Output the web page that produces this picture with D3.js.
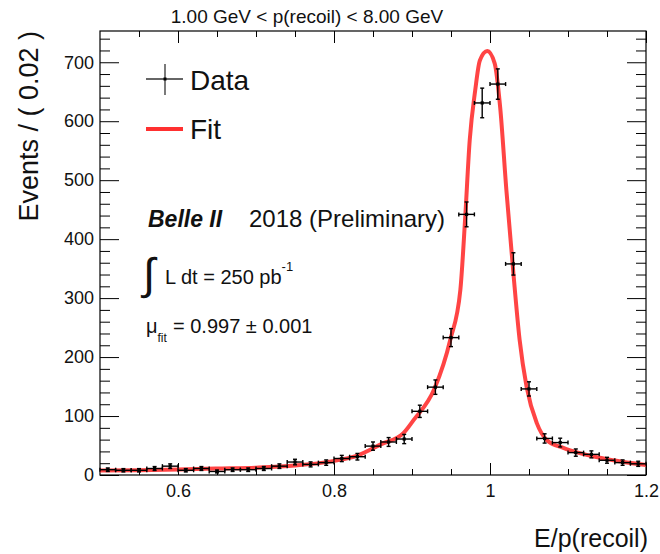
<!DOCTYPE html>
<html><head><meta charset="utf-8">
<script src="https://cdn.jsdelivr.net/npm/d3@7"></script>
<style>body{margin:0;background:#fff} text{font-family:"Liberation Sans",Arial,Helvetica,sans-serif}</style>
</head><body><svg id="c" width="660" height="554"></svg>
<script>
// ---- data ----
const binCenters = [0.51,0.53,0.55,0.57,0.59,0.61,0.63,0.65,0.67,0.69,0.71,0.73,0.75,0.77,0.79,0.81,0.83,0.85,0.87,0.89,0.91,0.93,0.95,0.97,0.99,1.01,1.03,1.05,1.07,1.09,1.11,1.13,1.15,1.17,1.19];
const counts     = [9,8,8,11,15,8,11,6,9,9,11,15,22,18,21,28,31,49,56,61,108,149,233,442,631,663,358,146,62,55,38,35,25,21,19];
const binHalfWidth = 0.01;
const fitX = [0.50,0.55,0.60,0.65,0.70,0.75,0.80,0.83,0.86,0.889,0.902,0.929,0.949,0.962,0.968,0.974,0.981,0.987,0.9965,1.006,1.013,1.021,1.030,1.038,1.047,1.060,1.073,1.094,1.115,1.158,1.20];
const fitY = [7.5,8,9.5,11,12.5,16,24,33,52,71,93,147,229,314,432,568,652,703,719,698,624,483,342,229,149,88,59,46,37,25,17];
const xMajorTicks = [0.6,0.8,1.0,1.2];
const xTickLabels = ["0.6","0.8","1","1.2"];
const xMinorTicks = [0.55,0.65,0.7,0.75,0.85,0.9,0.95,1.05,1.1,1.15];
const yMajorTicks = [0,100,200,300,400,500,600,700];
const yTickLabels = ["0","100","200","300","400","500","600","700"];
const yMinorTicks = [20,40,60,80,120,140,160,180,220,240,260,280,320,340,360,380,420,440,460,480,520,540,560,580,620,640,660,680,720,740];
const yMax = 753;

// ---- layout ----
const L = 100, R = 646, T = 31, B = 475;
const svg = d3.select("#c");
const x = d3.scaleLinear().domain([0.5,1.2]).range([L,R]);
const y = d3.scaleLinear().domain([0,yMax]).range([B,T]);

function styleAxis(g){ g.select(".domain").remove(); g.selectAll("line").attr("stroke","#000").attr("stroke-width",1); g.selectAll("text").attr("fill","#111").style("font-size","18px").style("font-family","Liberation Sans, Arial, sans-serif"); }

// axes
svg.append("g").attr("transform",`translate(0,${B})`).call(d3.axisBottom(x).tickValues(xMajorTicks).tickSize(-12).tickPadding(9).tickFormat((d,i)=>xTickLabels[i])).call(styleAxis);
svg.append("g").attr("transform",`translate(0,${B})`).call(d3.axisBottom(x).tickValues(xMinorTicks).tickSize(-6).tickFormat("")).call(styleAxis);
svg.append("g").attr("transform",`translate(0,${T})`).call(d3.axisTop(x).tickValues(xMajorTicks).tickSize(-12).tickFormat("")).call(styleAxis);
svg.append("g").attr("transform",`translate(0,${T})`).call(d3.axisTop(x).tickValues(xMinorTicks).tickSize(-6).tickFormat("")).call(styleAxis);
svg.append("g").attr("transform",`translate(${L},0)`).call(d3.axisLeft(y).tickValues(yMajorTicks).tickSize(-19).tickPadding(6).tickFormat((d,i)=>yTickLabels[i])).call(styleAxis);
svg.append("g").attr("transform",`translate(${L},0)`).call(d3.axisLeft(y).tickValues(yMinorTicks).tickSize(-10).tickFormat("")).call(styleAxis);
svg.append("g").attr("transform",`translate(${R},0)`).call(d3.axisRight(y).tickValues(yMajorTicks).tickSize(-19).tickFormat("")).call(styleAxis);
svg.append("g").attr("transform",`translate(${R},0)`).call(d3.axisRight(y).tickValues(yMinorTicks).tickSize(-10).tickFormat("")).call(styleAxis);

// frame
svg.append("rect").attr("x",L).attr("y",T).attr("width",R-L).attr("height",B-T).attr("fill","none").attr("stroke","#000").attr("stroke-width",1.2);

// fit curve
const fitPts = fitX.map((v,i)=>[v,fitY[i]]);
svg.append("path").datum(fitPts)
  .attr("d", d3.line().x(d=>x(d[0])).y(d=>y(d[1])).curve(d3.curveMonotoneX))
  .attr("fill","none").attr("stroke","#ff3030").attr("stroke-opacity",0.9).attr("stroke-width",4);

// data points
const pts = svg.append("g").attr("stroke","#000").attr("stroke-width",1.4);
binCenters.forEach((c,i)=>{
  const n = counts[i], e = Math.sqrt(n);
  const cx = x(c), cy = y(n);
  const x0 = x(c-binHalfWidth), x1 = x(c+binHalfWidth);
  const y0 = y(n-e), y1 = y(n+e);
  const cap = 2;
  pts.append("line").attr("x1",x0).attr("x2",x1).attr("y1",cy).attr("y2",cy);
  pts.append("line").attr("x1",cx).attr("x2",cx).attr("y1",y0).attr("y2",y1);
  pts.append("line").attr("x1",x0).attr("x2",x0).attr("y1",cy-cap).attr("y2",cy+cap);
  pts.append("line").attr("x1",x1).attr("x2",x1).attr("y1",cy-cap).attr("y2",cy+cap);
  pts.append("line").attr("x1",cx-cap).attr("x2",cx+cap).attr("y1",y0).attr("y2",y0);
  pts.append("line").attr("x1",cx-cap).attr("x2",cx+cap).attr("y1",y1).attr("y2",y1);
  svg.append("rect").attr("x",cx-1.6).attr("y",cy-1.6).attr("width",3.2).attr("height",3.2).attr("fill","#000");
});

// title
svg.append("text").attr("x",307).attr("y",23).attr("text-anchor","middle").style("font-size","19px").attr("fill","#111").text("1.00 GeV < p(recoil) < 8.00 GeV");

// axis titles
svg.append("text").attr("transform","translate(38,31) rotate(-90)").attr("text-anchor","end").style("font-size","27px").attr("fill","#111").text("Events / ( 0.02 )");
svg.append("text").attr("x",648).attr("y",547).attr("text-anchor","end").style("font-size","25px").attr("fill","#111").text("E/p(recoil)");

// legend
const lg = svg.append("g");
lg.append("line").attr("x1",146).attr("x2",183).attr("y1",79).attr("y2",79).attr("stroke","#333").attr("stroke-width",1.3);
lg.append("line").attr("x1",165).attr("x2",165).attr("y1",64).attr("y2",95).attr("stroke","#333").attr("stroke-width",1.3);
lg.append("rect").attr("x",163.5).attr("y",77.5).attr("width",3).attr("height",3).attr("fill","#000");
lg.append("text").attr("x",190).attr("y",90).style("font-size","28px").attr("fill","#111").text("Data");
lg.append("line").attr("x1",146).attr("x2",183).attr("y1",129).attr("y2",129).attr("stroke","#ff3030").attr("stroke-width",4);
lg.append("text").attr("x",190).attr("y",139).style("font-size","28px").attr("fill","#111").text("Fit");

// annotations
const belle = svg.append("text").attr("x",148).attr("y",227).style("font-size","23px").attr("fill","#111");
belle.append("tspan").style("font-weight","bold").style("font-style","italic").text("Belle II");
belle.append("tspan").attr("x",249).style("font-size","24px").text("2018 (Preliminary)");

svg.append("text").attr("x",143).attr("y",289).style("font-size","44px").style("font-family","DejaVu Sans, sans-serif").style("font-weight","300").attr("fill","#111").text("∫");
const lum = svg.append("text").attr("x",165).attr("y",284).style("font-size","20px").attr("fill","#111");
lum.append("tspan").text("L dt = 250 pb");
lum.append("tspan").attr("dy",-13).style("font-size","13px").text("-1");

const mu = svg.append("text").attr("x",146).attr("y",333).style("font-size","20px").attr("fill","#111");
mu.append("tspan").text("μ");
mu.append("tspan").attr("dy",9).style("font-size","12px").text("fit");
mu.append("tspan").attr("x",173).attr("dy",-9).text("= 0.997 ± 0.001");
</script>
</body></html>
